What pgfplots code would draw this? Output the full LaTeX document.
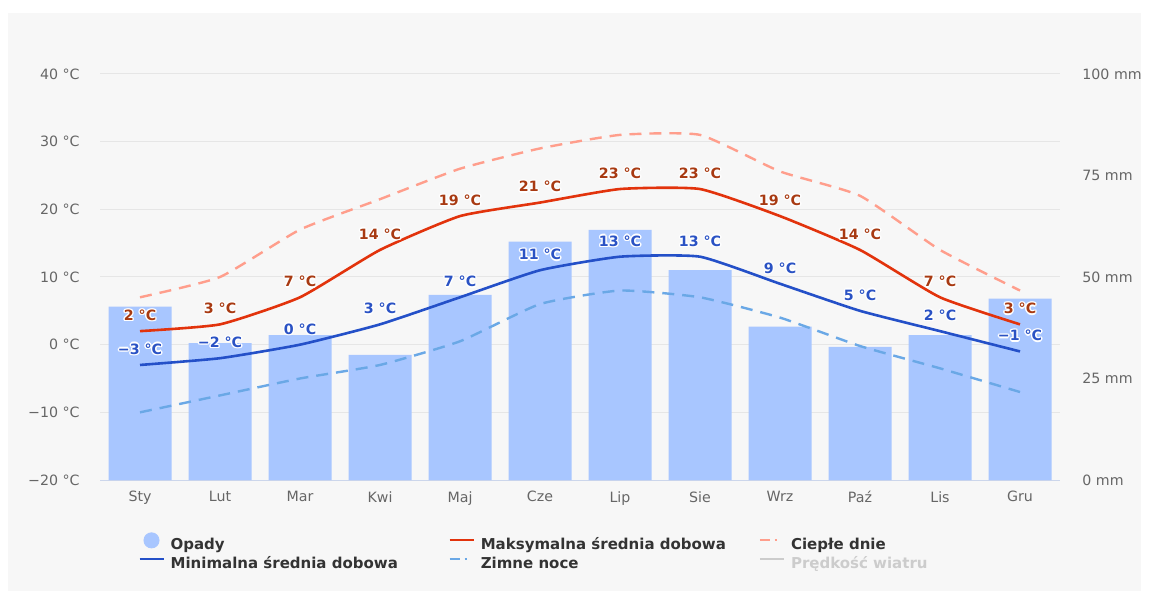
\documentclass[border=0pt]{standalone}
\usepackage{pgfplots}
\pgfplotsset{compat=1.18}
\usepackage{pgfplotstable}
\usepackage{fontspec}
\setmainfont{DejaVu Sans}

\definecolor{bgc}{HTML}{F7F7F7}
\definecolor{gridc}{HTML}{E6E6E6}
\definecolor{axisln}{HTML}{CCD6EB}
\definecolor{ticklab}{HTML}{666666}
\definecolor{barc}{HTML}{A8C6FF}
\definecolor{maxc}{HTML}{E2330C}
\definecolor{maxlab}{HTML}{A83A12}
\definecolor{minc}{HTML}{2450C8}
\definecolor{minlab}{HTML}{2A52C4}
\definecolor{warmc}{HTML}{FF9E8C}
\definecolor{coldc}{HTML}{6AA8E6}
\definecolor{legtext}{HTML}{333333}
\definecolor{legoff}{HTML}{CCCCCC}

\newcommand\haloat[3]{\makebox[0pt][l]{\kern#1\raisebox{#2}{\color{white}#3}}}
\newcommand\halo[1]{%
  \haloat{0.7pt}{0pt}{#1}\haloat{-0.7pt}{0pt}{#1}%
  \haloat{0pt}{0.7pt}{#1}\haloat{0pt}{-0.7pt}{#1}%
  \haloat{0.5pt}{0.5pt}{#1}\haloat{-0.5pt}{0.5pt}{#1}%
  \haloat{0.5pt}{-0.5pt}{#1}\haloat{-0.5pt}{-0.5pt}{#1}#1}

\pgfplotstableread{
x mm
0 42.7
1 33.7
2 35.7
3 30.8
4 45.6
5 58.7
6 61.6
7 51.7
8 37.8
9 32.8
10 35.7
11 44.7
}\precip

\pgfplotstableread{
x y lab
0 2 {2 °C}
1 3 {3 °C}
2 7 {7 °C}
3 14 {14 °C}
4 19 {19 °C}
5 21 {21 °C}
6 23 {23 °C}
7 23 {23 °C}
8 19 {19 °C}
9 14 {14 °C}
10 7 {7 °C}
11 3 {3 °C}
}\tmax

\pgfplotstableread{
x y lab
0 -3 {−3 °C}
1 -2 {−2 °C}
2 0 {0 °C}
3 3 {3 °C}
4 7 {7 °C}
5 11 {11 °C}
6 13 {13 °C}
7 13 {13 °C}
8 9 {9 °C}
9 5 {5 °C}
10 2 {2 °C}
11 -1 {−1 °C}
}\tmin

\pgfplotstableread{
x y
0 7
1 10
2 17
3 21.5
4 26
5 29
6 31
7 31
8 25.6
9 22
10 14
11 8
}\twarm

\pgfplotstableread{
x y
0 -10
1 -7.5
2 -5
3 -3
4 0.5
5 6
6 8
7 7
8 4
9 -0.2
10 -3.5
11 -7
}\tcold

\pgfplotsset{
  base/.style={scale only axis, width=480pt, height=203pt, at={(50pt,57pt)},
    anchor=south west, xmin=-0.5, xmax=11.5}
}
\tikzset{lab/.style={font=\bfseries\fontsize{7.1}{8}\selectfont, anchor=south, inner sep=0pt, yshift=4.3pt}}

\begin{document}
\begin{tikzpicture}
\useasboundingbox (0,0) rectangle (574.5pt,297pt);
\fill[bgc] (4pt,1.5pt) rectangle (570.5pt,290.5pt);

% grid and left labels
\begin{axis}[base, ymin=-20, ymax=40,
  ytick={-20,-10,0,10,20,30,40},
  yticklabels={−20 °C,−10 °C,0 °C,10 °C,20 °C,30 °C,40 °C},
  ymajorgrids, grid style={gridc, line width=0.5pt},
  axis line style={draw=none}, tick style={draw=none},
  xtick={0,...,11},
  xticklabels={Sty,Lut,Mar,Kwi,Maj,Cze,Lip,Sie,Wrz,Paź,Lis,Gru},
  yticklabel style={font=\fontsize{7.1}{8}\selectfont, text=ticklab, anchor=east, inner sep=0pt},
  yticklabel shift=10pt,
  xticklabel style={font=\fontsize{7.1}{8}\selectfont, text=ticklab, anchor=north, inner sep=0pt},
  xticklabel shift=5.5pt]
\end{axis}

% precipitation bars
\begin{axis}[base, ymin=0, ymax=100,
  axis y line*=right, axis x line*=bottom,
  x axis line style={axisln, line width=0.5pt, -},
  y axis line style={draw=none},
  xtick=\empty, tick style={draw=none},
  ytick={0,25,50,75,100},
  yticklabels={0 mm,25 mm,50 mm,75 mm,100 mm},
  yticklabel style={font=\fontsize{7.1}{8}\selectfont, text=ticklab, anchor=west, inner sep=0pt},
  yticklabel shift=11pt]
\addplot[ybar, bar width=31.5pt, bar shift=0pt, fill=barc, draw=none] table[x=x,y=mm]{\precip};
\end{axis}

% temperature lines
\begin{axis}[base, ymin=-20, ymax=40, hide axis, clip=false,
  legend columns=3, legend cell align=left,
  legend style={at={(0.0396,-0.128)}, anchor=north west, draw=none, fill=none,
    inner sep=0pt, column sep=3pt, row sep=1.8pt,
    font=\bfseries\fontsize{7.5}{8}\selectfont, text=legtext,
    nodes={inner sep=0pt, text height=5.8pt, text depth=1.7pt}}]
\addplot[coldc, line width=1.2pt, smooth, tension=0.3, dash pattern=on 6pt off 4pt, forget plot] table[x=x,y=y]{\tcold};
\addplot[warmc, line width=1.2pt, smooth, tension=0.3, dash pattern=on 6pt off 4pt, forget plot] table[x=x,y=y]{\twarm};
\addplot[minc, line width=1.3pt, smooth, tension=0.3, forget plot] table[x=x,y=y]{\tmin};
\addplot[maxc, line width=1.3pt, smooth, tension=0.3, forget plot] table[x=x,y=y]{\tmax};
\addplot[draw=none, forget plot,
  nodes near coords={\halo{\pgfplotspointmeta}}, point meta=explicit symbolic,
  nodes near coords style={lab, text=minlab}] table[x=x,y=y,meta=lab]{\tmin};
\addplot[draw=none, forget plot,
  nodes near coords={\halo{\pgfplotspointmeta}}, point meta=explicit symbolic,
  nodes near coords style={lab, text=maxlab}] table[x=x,y=y,meta=lab]{\tmax};

\addlegendimage{legend image code/.code={\fill[barc] (6pt,2.7pt) circle (3.8pt);}}
\addlegendentry{\makebox[136pt][l]{Opady}}
\addlegendimage{legend image code/.code={\draw[maxc, line width=1.1pt] (0pt,2.7pt) -- (12pt,2.7pt);}}
\addlegendentry{\makebox[136pt][l]{Maksymalna średnia dobowa}}
\addlegendimage{legend image code/.code={\draw[warmc, line width=1.1pt, dash pattern=on 5pt off 2.5pt on 1pt off 3.5pt] (0pt,2.7pt) -- (12pt,2.7pt);}}
\addlegendentry{Ciepłe dnie}
\addlegendimage{legend image code/.code={\draw[minc, line width=1.1pt] (0pt,2.7pt) -- (12pt,2.7pt);}}
\addlegendentry{\makebox[136pt][l]{Minimalna średnia dobowa}}
\addlegendimage{legend image code/.code={\draw[coldc, line width=1.1pt, dash pattern=on 5pt off 2.5pt on 1pt off 3.5pt] (0pt,2.7pt) -- (12pt,2.7pt);}}
\addlegendentry{\makebox[136pt][l]{Zimne noce}}
\addlegendimage{legend image code/.code={\draw[legoff, line width=1.1pt] (0pt,2.7pt) -- (12pt,2.7pt);}}
\addlegendentry{\textcolor{legoff}{Prędkość wiatru}}
\end{axis}
\end{tikzpicture}
\end{document}
